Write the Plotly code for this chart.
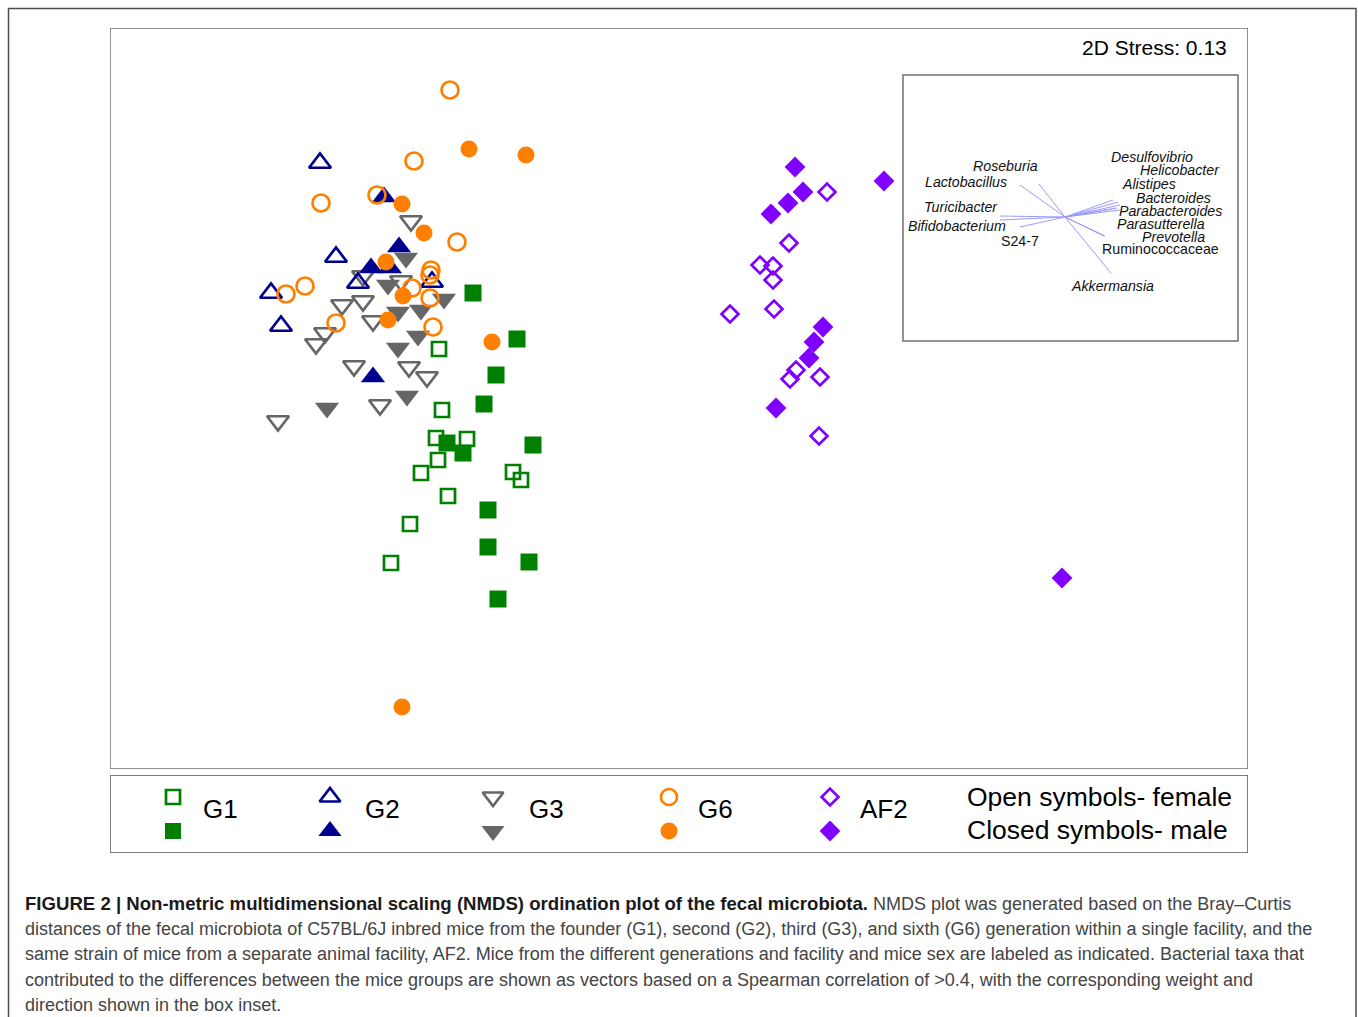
import plotly.graph_objects as go

# ---- NMDS ordination scores (plot units: NMDS1 to the right, NMDS2 downward) ----
g1_f_x = [439, 442, 436, 467, 438, 421, 513, 521, 448, 410, 391]
g1_f_y = [349, 410, 438, 439, 460, 473, 472, 480, 496, 524, 563]
g1_m_x = [473, 517, 496, 484, 533, 447, 463, 488, 488, 529, 498]
g1_m_y = [293, 339, 375, 404, 445, 443, 453, 510, 547, 562, 599]

g2_f_x = [320, 336, 271, 281, 358, 432]
g2_f_y = [163, 257, 293, 326, 283, 282]
g2_m_x = [384, 399, 371, 390, 373]
g2_m_y = [197, 247, 268, 268, 377]

g3_f_x = [411, 363, 401, 342, 363, 373, 325, 316, 354, 409, 427, 380, 278]
g3_f_y = [221, 276, 281, 305, 301, 321, 333, 344, 366, 367, 377, 405, 421]
g3_m_x = [406, 388, 444, 421, 398, 418, 398, 407, 327]
g3_m_y = [258, 285, 299, 310, 312, 336, 348, 396, 408]

g6_f_x = [450, 414, 321, 377, 457, 431, 430, 286, 305, 412, 430, 336, 433]
g6_f_y = [90, 161, 203, 195, 242, 270, 275, 294, 286, 288, 298, 323, 327]
g6_m_x = [469, 526, 402, 424, 386, 403, 388, 492, 402]
g6_m_y = [149, 155, 204, 233, 262, 296, 320, 342, 707]

af2_f_x = [827, 789, 760, 773, 773, 730, 774, 796, 790, 820, 819]
af2_f_y = [192, 243, 265, 266, 280, 314, 309, 370, 379, 377, 436]
af2_m_x = [795, 884, 803, 788, 771, 823, 814, 809, 776, 1062]
af2_m_y = [167, 181, 192, 203, 214, 327, 342, 358, 408, 578]

# ---- envfit taxa vectors for the inset (origin and arrow tips) ----
vec_origin = (1065, 217)
taxa = ["Roseburia", "Lactobacillus", "Turicibacter", "Bifidobacterium", "S24-7",
        "Desulfovibrio", "Helicobacter", "Alistipes", "Bacteroides",
        "Parabacteroides", "Parasutterella", "Prevotella", "Ruminococcaceae",
        "Akkermansia"]
tip_x = [1039, 1020, 1000, 1000, 1020, 1113, 1118, 1120, 1117, 1120, 1112, 1105, 1104, 1111]
tip_y = [184, 185, 216, 220, 227, 200, 202, 205, 208, 210, 209, 236, 236, 273]
label_x = [973, 925, 924, 908, 1001, 1111, 1140, 1122, 1136, 1119, 1117, 1142, 1102, 1071]
label_y = [166, 182, 207, 226, 241, 157, 170, 184, 198, 211, 224, 237, 249, 286]
label_italic = [True, True, True, True, False, True, True, True, True, True, True, True,
                False, True]

stress_text = "2D Stress: 0.13"

GREEN = "#008000"
NAVY = "#00008f"
GREY = "#666666"
ORANGE = "#ff8000"
PURPLE = "#8000ff"

W, H = 1358, 1017
PX0, PX1, PY0, PY1 = 110, 1248, 28, 769      # plot panel
LY0, LY1 = 775, 853                           # legend panel

fig = go.Figure()


def pts(x, y, symbol, color, size, opened, xa="x", ya="y"):
    marker = dict(symbol=symbol, size=size, color=color)
    if opened:
        marker["line"] = dict(color=color, width=2.7)
    else:
        marker["line"] = dict(width=0)
    fig.add_trace(go.Scatter(x=x, y=y, mode="markers", marker=marker,
                             xaxis=xa, yaxis=ya, showlegend=False, hoverinfo="skip"))


# inset vectors
for tx, ty in zip(tip_x, tip_y):
    fig.add_trace(go.Scatter(x=[vec_origin[0], tx], y=[vec_origin[1], ty], mode="lines",
                             line=dict(color="#9a9aff", width=1), showlegend=False,
                             hoverinfo="skip"))

# samples: open = female, closed = male
pts(g3_f_x, g3_f_y, "triangle-down-open", GREY, 19, True)
pts(g3_m_x, g3_m_y, "triangle-down", GREY, 21, False)
pts(g2_f_x, g2_f_y, "triangle-up-open", NAVY, 19, True)
pts(g2_m_x, g2_m_y, "triangle-up", NAVY, 21, False)
pts(g1_f_x, g1_f_y, "square-open", GREEN, 14, True)
pts(g1_m_x, g1_m_y, "square", GREEN, 17, False)
pts(g6_m_x, g6_m_y, "circle", ORANGE, 17, False)
pts(g6_f_x, g6_f_y, "circle-open", ORANGE, 17, True)
pts(af2_f_x, af2_f_y, "diamond-open", PURPLE, 13, True)
pts(af2_m_x, af2_m_y, "diamond", PURPLE, 16, False)

# legend key symbols
key_x = [173, 330, 493, 669, 830]
key_text_x = [201, 363, 527, 696, 858]
key_names = ["G1", "G2", "G3", "G6", "AF2"]
key_open = ["square-open", "triangle-up-open", "triangle-down-open", "circle-open", "diamond-open"]
key_closed = ["square", "triangle-up", "triangle-down", "circle", "diamond"]
key_colors = [GREEN, NAVY, GREY, ORANGE, PURPLE]
key_open_size = [14, 18, 18, 16, 13]
key_closed_size = [16, 20, 20, 17, 16]
for kx, so, sc, col, s1, s2 in zip(key_x, key_open, key_closed, key_colors,
                                    key_open_size, key_closed_size):
    pts([kx], [797], so, col, s1, True, "x2", "y2")
    pts([kx], [831], sc, col, s2, False, "x2", "y2")

annotations = []
for tx, name in zip(key_text_x, key_names):
    annotations.append(dict(x=tx, y=809, xref="x2", yref="y2", text=name,
                            showarrow=False, xanchor="left", yanchor="middle",
                            font=dict(size=26, color="#000000")))
annotations.append(dict(x=965, y=797, xref="x2", yref="y2", text="Open symbols- female",
                        showarrow=False, xanchor="left", yanchor="middle",
                        font=dict(size=26.5, color="#000000")))
annotations.append(dict(x=965, y=830, xref="x2", yref="y2", text="Closed symbols- male",
                        showarrow=False, xanchor="left", yanchor="middle",
                        font=dict(size=26.5, color="#000000")))

annotations.append(dict(x=1229, y=47, xref="x", yref="y", text=stress_text, showarrow=False,
                        xanchor="right", yanchor="middle", font=dict(size=21, color="#000000")))

for name, lx, ly, it in zip(taxa, label_x, label_y, label_italic):
    annotations.append(dict(x=lx - 1, y=ly, xref="x", yref="y",
                            text=f"<i>{name}</i>" if it else name, showarrow=False,
                            xanchor="left", yanchor="middle", borderpad=0,
                            font=dict(size=14.2, color="#111111")))

caption_lines = [
    "<b><span style='color:#1a1a1a;font-size:18.6px'>FIGURE 2 | Non-metric multidimensional "
    "scaling (NMDS) ordination plot of the fecal microbiota.</span></b> NMDS plot was "
    "generated based on the Bray–Curtis",
    "distances of the fecal microbiota of C57BL/6J inbred mice from the founder (G1), second "
    "(G2), third (G3), and sixth (G6) generation within a single facility, and the",
    "same strain of mice from a separate animal facility, AF2. Mice from the different "
    "generations and facility and mice sex are labeled as indicated. Bacterial taxa that",
    "contributed to the differences between the mice groups are shown as vectors based on a "
    "Spearman correlation of &gt;0.4, with the corresponding weight and",
    "direction shown in the box inset.",
]
caption_y = [903, 928.5, 954, 979.5, 1005]
for line, cy in zip(caption_lines, caption_y):
    annotations.append(dict(x=23 / W, y=1 - cy / H, xref="paper", yref="paper", text=line,
                            showarrow=False, xanchor="left", yanchor="middle",
                            font=dict(size=18, color="#444444",
                                      family="Liberation Sans Narrow, Liberation Sans, Arial")))

shapes = [
    # outer figure frame
    dict(type="rect", xref="paper", yref="paper", x0=8.5 / W, x1=1356 / W,
         y0=-0.05, y1=1 - 8.5 / H, line=dict(color="#4d4d4d", width=1.5)),
    # plot panel frame
    dict(type="rect", xref="x", yref="y", x0=PX0, x1=PX1, y0=PY0, y1=PY1,
         line=dict(color="#707070", width=1.5)),
    # inset frame
    dict(type="rect", xref="x", yref="y", x0=903, x1=1238, y0=75, y1=341,
         line=dict(color="#707070", width=1.5)),
    # legend frame
    dict(type="rect", xref="x2", yref="y2", x0=PX0, x1=PX1, y0=LY0, y1=LY1,
         line=dict(color="#555555", width=1.5)),
]

hidden = dict(visible=False, showgrid=False, zeroline=False, fixedrange=True)
fig.update_layout(
    width=W, height=H,
    margin=dict(l=0, r=0, t=0, b=0),
    paper_bgcolor="white", plot_bgcolor="rgba(0,0,0,0)",
    font=dict(family="Liberation Sans, Arial, sans-serif"),
    xaxis=dict(domain=[PX0 / W, PX1 / W], range=[PX0, PX1], **hidden),
    yaxis=dict(domain=[1 - PY1 / H, 1 - PY0 / H], range=[PY1, PY0], **hidden),
    xaxis2=dict(domain=[PX0 / W, PX1 / W], range=[PX0, PX1], anchor="y2", **hidden),
    yaxis2=dict(domain=[1 - LY1 / H, 1 - LY0 / H], range=[LY1, LY0], anchor="x2", **hidden),
    shapes=shapes,
    annotations=annotations,
)

fig.write_html("out.html")
